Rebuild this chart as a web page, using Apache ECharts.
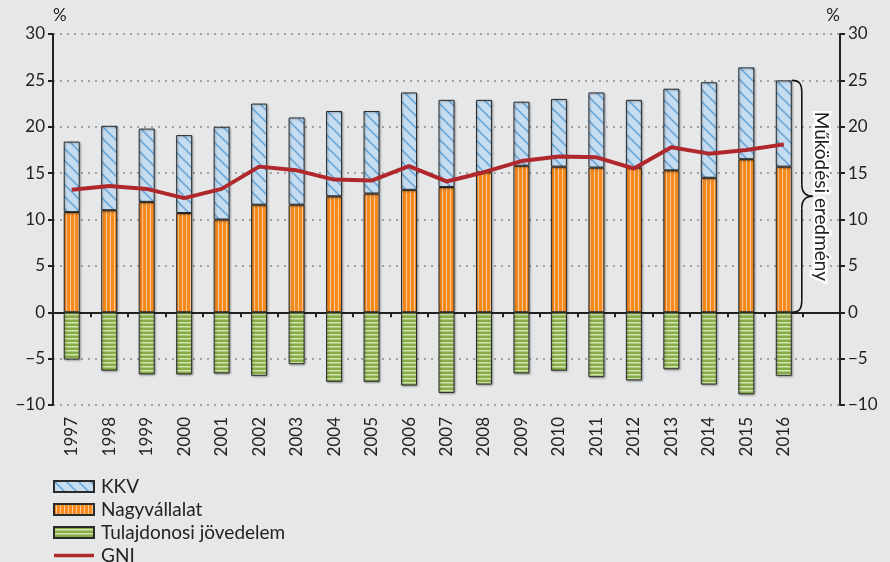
<!DOCTYPE html>
<html>
<head>
<meta charset="utf-8">
<script src="https://cdn.jsdelivr.net/npm/echarts@6/dist/echarts.min.js"></script>
<style>
html, body { margin: 0; padding: 0; background: #e6e7e9; }
#chart { width: 890px; height: 562px; }
</style>
</head>
<body>
<div id="chart"></div>
<script>
// évek (kategóriák)
const years = ['1997', '1998', '1999', '2000', '2001', '2002', '2003', '2004', '2005', '2006',
               '2007', '2008', '2009', '2010', '2011', '2012', '2013', '2014', '2015', '2016'];
// GDP-arányos értékek, %
const nagyvallalat = [10.8, 11.0, 11.9, 10.7, 10.0, 11.6, 11.6, 12.5, 12.8, 13.2,
                      13.5, 15.1, 15.8, 15.7, 15.6, 15.6, 15.3, 14.5, 16.5, 15.7];
const kkv = [7.6, 9.1, 7.9, 8.4, 10.0, 10.9, 9.4, 9.2, 8.9, 10.5,
             9.4, 7.8, 6.9, 7.3, 8.1, 7.3, 8.8, 10.3, 9.9, 9.3];
const tulajdonosi = [-5.1, -6.3, -6.7, -6.7, -6.6, -6.85, -5.6, -7.5, -7.5, -7.9,
                     -8.7, -7.8, -6.6, -6.3, -7.0, -7.35, -6.15, -7.8, -8.85, -6.85];
const gni = [13.2, 13.6, 13.3, 12.3, 13.3, 15.7, 15.3, 14.3, 14.2, 15.75,
             14.1, 15.1, 16.3, 16.8, 16.7, 15.5, 17.8, 17.1, 17.5, 18.1];
// üres hely a kapcsos zárójelnek a jobb szélen
const categories = years.concat(['']);
const braceTop = 25;
const braceBottom = 0;
const braceLabel = 'Működési eredmény';

const FONT = 'Lato, "Open Sans", sans-serif';

// mintázatok a sávokhoz
function makePattern(w, h, draw) {
    const c = document.createElement('canvas');
    c.width = w;
    c.height = h;
    draw(c.getContext('2d'), w, h);
    return { image: c, repeat: 'repeat' };
}

const bluePattern = makePattern(12, 12, (ctx, w, h) => {
    ctx.fillStyle = '#c6dcf0';
    ctx.fillRect(0, 0, w, h);
    ctx.strokeStyle = '#6fa8d7';
    ctx.lineWidth = 1.6;
    ctx.beginPath();
    ctx.moveTo(-2, -2); ctx.lineTo(w + 2, h + 2);
    ctx.moveTo(-2, h - 2); ctx.lineTo(2, h + 2);
    ctx.moveTo(w - 2, -2); ctx.lineTo(w + 2, 2);
    ctx.stroke();
});

const orangePattern = makePattern(4, 4, (ctx, w, h) => {
    ctx.fillStyle = '#f58a1f';
    ctx.fillRect(0, 0, w, h);
    ctx.fillStyle = '#fcc894';
    ctx.fillRect(2, 0, 1, h);
});

const greenPattern = makePattern(4, 4, (ctx, w, h) => {
    ctx.fillStyle = '#86ad45';
    ctx.fillRect(0, 0, w, h);
    ctx.fillStyle = '#d3e4b2';
    ctx.fillRect(0, 2, w, 1.5);
});

const barBorder = {
    borderColor: '#2a2a2a',
    borderWidth: 1,
    shadowColor: 'rgba(0,0,0,0.3)',
    shadowBlur: 2,
    shadowOffsetX: 1,
    shadowOffsetY: 1
};

function valueAxis(position, showSplit) {
    return {
        type: 'value',
        position: position,
        min: -10,
        max: 30,
        interval: 5,
        name: '%',
        nameLocation: 'end',
        nameGap: 10,
        nameTextStyle: {
            fontFamily: FONT, fontSize: 17, color: '#222',
            align: position === 'left' ? 'left' : 'right'
        },
        axisLine: { show: true, lineStyle: { color: '#222', width: 2 } },
        axisTick: { show: true, length: 5, lineStyle: { color: '#222', width: 2 } },
        axisLabel: {
            fontFamily: FONT, fontSize: 17, color: '#222', margin: 8,
            formatter: v => String(v).replace('-', '\u2212')
        },
        splitLine: {
            show: showSplit,
            lineStyle: { color: '#8c8c8c', width: 1.5, type: [2, 5] }
        }
    };
}

const chart = echarts.init(document.getElementById('chart'));
chart.setOption({
    backgroundColor: '#e6e7e9',
    animation: false,
    grid: { left: 53, right: 50, top: 34, bottom: 157 },
    legend: {
        orient: 'vertical',
        left: 53,
        top: 477,
        height: 90,
        padding: 0,
        itemWidth: 40,
        itemHeight: 11,
        itemGap: 4,
        symbolKeepAspect: true,
        data: [
            { name: 'KKV', icon: 'rect' },
            { name: 'Nagyvállalat', icon: 'rect' },
            { name: 'Tulajdonosi jövedelem', icon: 'rect' },
            { name: 'GNI', icon: 'path://M0 0 H40 V3.5 H0 Z' }
        ],
        textStyle: { fontFamily: FONT, fontSize: 19, color: '#222', padding: [0, 0, 0, 2] }
    },
    xAxis: [
        {
            type: 'category',
            data: categories,
            axisLine: { show: false, onZero: false },
            axisTick: { show: false },
            axisLabel: { fontFamily: FONT, fontSize: 17, color: '#222', rotate: 90, margin: 12, interval: 0 }
        },
        {
            type: 'category',
            data: categories,
            position: 'bottom',
            axisLine: { show: true, onZero: true, lineStyle: { color: '#222', width: 2 } },
            axisTick: { show: true, length: 5, lineStyle: { color: '#222', width: 2 } },
            axisLabel: { show: false }
        }
    ],
    yAxis: [valueAxis('left', true), valueAxis('right', false)],
    series: [
        {
            name: 'Nagyvállalat',
            type: 'bar',
            stack: 'a',
            barWidth: 16,
            data: nagyvallalat,
            itemStyle: Object.assign({ color: orangePattern }, barBorder)
        },
        {
            name: 'KKV',
            type: 'bar',
            stack: 'a',
            barWidth: 16,
            data: kkv,
            itemStyle: Object.assign({ color: bluePattern }, barBorder)
        },
        {
            name: 'Tulajdonosi jövedelem',
            type: 'bar',
            stack: 'a',
            barWidth: 16,
            data: tulajdonosi,
            itemStyle: Object.assign({ color: greenPattern }, barBorder)
        },
        {
            name: 'GNI',
            type: 'line',
            data: gni,
            symbol: 'none',
            z: 5,
            lineStyle: { color: '#b0282b', width: 4 },
            itemStyle: { color: '#b0282b' }
        }
    ]
});

// kapcsos zárójel + felirat a tengelyek szerint elhelyezve
const yTop = chart.convertToPixel({ yAxisIndex: 0 }, braceTop);
const yBot = chart.convertToPixel({ yAxisIndex: 0 }, braceBottom);
const yMid = (yTop + yBot) / 2;
const xL = chart.convertToPixel({ xAxisIndex: 0 }, years.length - 1) + 8;
const xV = xL + 10;
const xT = xL + 21;
const braceStyle = { fill: null, stroke: '#111', lineWidth: 1.6 };

function curve(x1, y1, cx1, cy1, cx2, cy2, x2, y2) {
    return {
        type: 'bezierCurve', z: 10,
        shape: { x1: x1, y1: y1, cpx1: cx1, cpy1: cy1, cpx2: cx2, cpy2: cy2, x2: x2, y2: y2 },
        style: braceStyle
    };
}
function straight(x1, y1, x2, y2) {
    return { type: 'line', z: 10, shape: { x1: x1, y1: y1, x2: x2, y2: y2 }, style: braceStyle };
}

chart.setOption({
    graphic: [
        curve(xL, yTop, xL + 8, yTop, xV, yTop + 4, xV, yTop + 12),
        straight(xV, yTop + 12, xV, yMid - 12),
        curve(xV, yMid - 12, xV, yMid - 4, xV + 4, yMid, xT, yMid),
        curve(xT, yMid, xV + 4, yMid, xV, yMid + 4, xV, yMid + 12),
        straight(xV, yMid + 12, xV, yBot - 12),
        curve(xV, yBot - 12, xV, yBot - 4, xL + 8, yBot, xL, yBot),
        {
            type: 'text',
            z: 11,
            x: xT + 8,
            y: yMid,
            rotation: -Math.PI / 2,
            style: {
                text: braceLabel,
                fontFamily: FONT,
                fontSize: 19,
                fill: '#222',
                stroke: '#ffffff',
                lineWidth: 5,
                strokeFirst: true,
                align: 'center',
                verticalAlign: 'middle'
            }
        }
    ]
});
</script>
</body>
</html>
